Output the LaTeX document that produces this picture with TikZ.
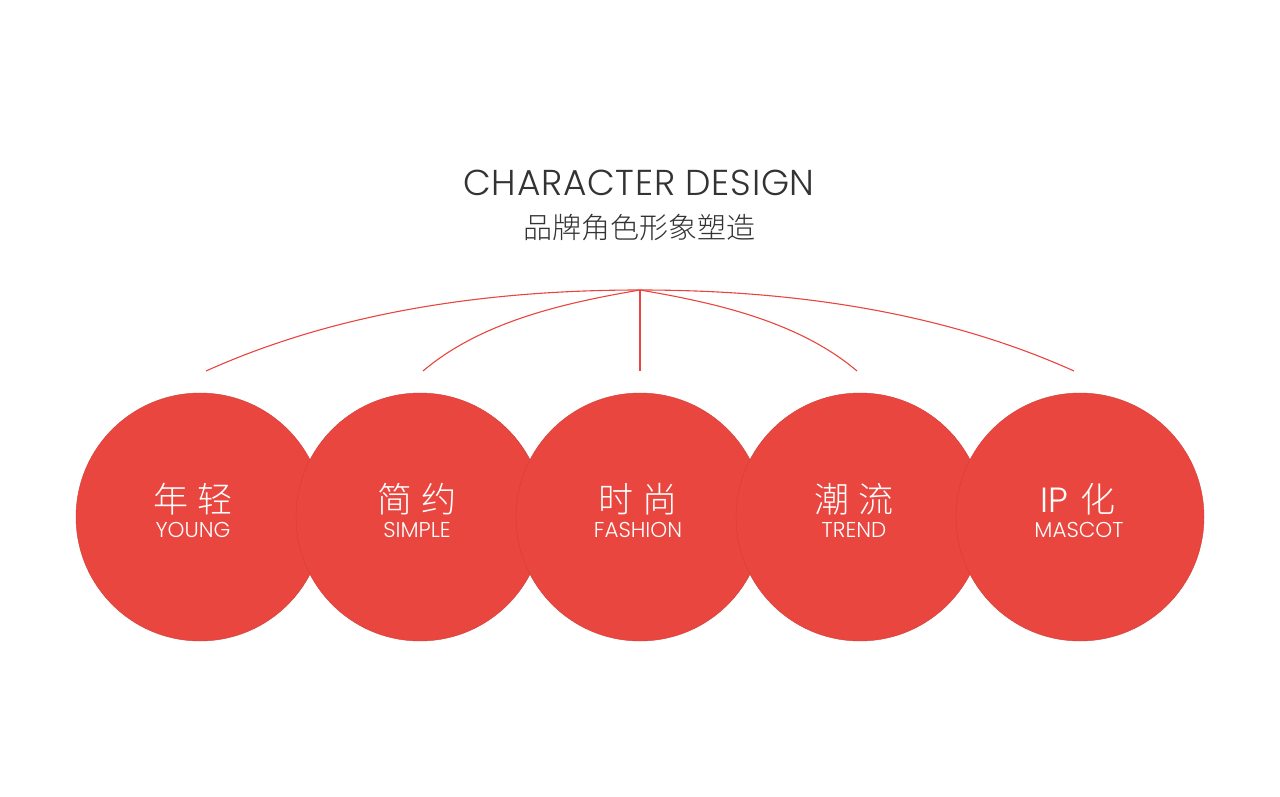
\documentclass[tikz,border=0pt]{standalone}
\usepackage{fontspec}
\setmainfont{Poppins Light}
\newfontfamily\cjk{Noto Sans CJK SC Light}
\newfontfamily\titlefont{Poppins Light}[LetterSpace=2]
\definecolor{circred}{HTML}{E9463F}
\definecolor{linered}{HTML}{E8453F}
\definecolor{titlegray}{HTML}{333333}
\tikzset{
  circ/.style={circle, fill=circred, draw=circred!90!black, line width=0.4pt, minimum size=248pt, inner sep=0pt},
  zhlab/.style={anchor=base, text=white, font=\cjk\fontsize{35}{40}\selectfont, inner sep=0pt},
  enlab/.style={anchor=base, text=white, font=\fontsize{21.5}{24}\selectfont, inner sep=0pt},
  conn/.style={draw=linered, line width=1.1pt},
}
\begin{document}
\begin{tikzpicture}[x=1pt,y=-1pt]
\useasboundingbox (0,0) rectangle (1280,797);
% title
\node[anchor=base, text=titlegray, font=\titlefont\fontsize{36}{40}\selectfont, inner sep=0pt] (title) at (639,195.5) {CHARACTER DESIGN};
\node[anchor=base, text=titlegray, font=\cjk\fontsize{29}{34}\selectfont, inner sep=0pt] (subtitle) at (639,238) {品牌角色形象塑造};
% connectors
\coordinate (hub) at (640,290);
\coordinate (e1) at (206,371);
\coordinate (e2) at (423,371);
\coordinate (e3) at (640,371);
\coordinate (e4) at (857,371);
\coordinate (e5) at (1074,371);
\draw[conn] (hub) .. controls (470.7,290) and (326,317) .. (e1);
\draw[conn] (hub) .. controls (570,302) and (483,320) .. (e2);
\draw[conn] (hub) -- (e3);
\draw[conn] (hub) .. controls (710,302) and (797,320) .. (e4);
\draw[conn] (hub) .. controls (809.3,290) and (954,317) .. (e5);
% circles
\node[circ] (c1) at (200,517) {};
\node[circ] (c2) at (420,517) {};
\node[circ] (c3) at (640,517) {};
\node[circ] (c4) at (860,517) {};
\node[circ] (c5) at (1080,517) {};
% labels
\node[zhlab] (z1) at (193,512) {年\hspace{9pt}轻};
\node[enlab] (n1) at (193,537) {YOUNG};
\node[zhlab] (z2) at (417,512) {简\hspace{9pt}约};
\node[enlab] (n2) at (417,537) {SIMPLE};
\node[zhlab] (z3) at (638,512) {时\hspace{9pt}尚};
\node[enlab] (n3) at (638,537) {FASHION};
\node[zhlab] (z4) at (854,512) {潮\hspace{9pt}流};
\node[enlab] (n4) at (854,537) {TREND};
\node[zhlab] (z5) at (1078,512) {{\fontspec{Poppins Light}IP}\hspace{12pt}化};
\node[enlab] (n5) at (1079,537) {MASCOT};
\end{tikzpicture}
\end{document}
